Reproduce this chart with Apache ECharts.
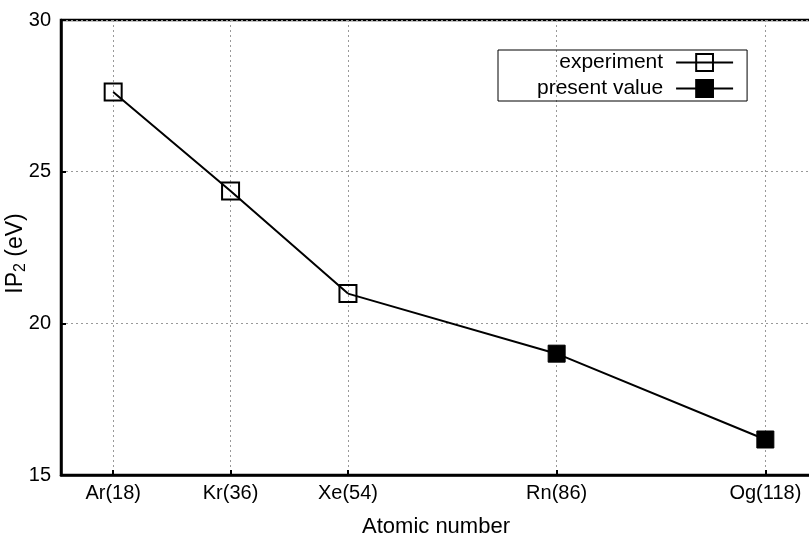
<!DOCTYPE html>
<html>
<head>
<meta charset="utf-8">
<script src="https://cdn.jsdelivr.net/npm/echarts@6/dist/echarts.min.js"></script>
<style>html,body{margin:0;padding:0;background:#fff;}#c{width:809px;height:537px;}</style>
</head>
<body>
<div id="c"></div>
<script>
const elements = ['Ar', 'Kr', 'Xe', 'Rn', 'Og'];
const atomicNumbers = [18, 36, 54, 86, 118];
const experimentIP2 = [27.63, 24.36, 20.98];
const presentIP2 = [19.0, 16.17];
const yTicks = [15, 20, 25, 30];

const FONT = 'Liberation Sans';
const chart = echarts.init(document.getElementById('c'));

const expData = experimentIP2.map((v, i) => [atomicNumbers[i], v]);
const presData = [
  { value: [atomicNumbers[2], experimentIP2[2]], symbol: 'none' }
].concat(presentIP2.map((v, i) => [atomicNumbers[3 + i], v]));

const labelMap = {};
atomicNumbers.forEach((n, i) => { labelMap[n] = elements[i] + '(' + n + ')'; });

chart.setOption({
  animation: false,
  backgroundColor: '#fff',
  grid: {
    left: 61, top: 20, width: 750, height: 455,
    outerBoundsMode: 'none', containLabel: false,
    show: true, borderColor: '#000', borderWidth: 2.5, backgroundColor: 'transparent'
  },
  legend: {
    orient: 'vertical',
    left: 498, top: 50,
    align: 'right',
    borderColor: '#000', borderWidth: 1,
    borderRadius: 0,
    padding: [2, 13, 2, 39],
    itemGap: 5,
    itemWidth: 57, itemHeight: 21,
    textStyle: { fontFamily: FONT, fontSize: 21, color: '#000', padding: [0, 8, 0, 0] },
    data: ['experiment', 'present value']
  },
  xAxis: {
    type: 'value', min: 10, max: 125,
    name: 'Atomic number', nameLocation: 'middle', nameGap: 41,
    nameTextStyle: { fontFamily: FONT, fontSize: 22, color: '#000' },
    axisLine: { show: true, lineStyle: { color: '#000', width: 2.5 } },
    axisTick: { show: true, inside: true, length: 5, customValues: atomicNumbers, lineStyle: { color: '#000', width: 2 } },
    axisLabel: {
      customValues: atomicNumbers, margin: 8,
      fontFamily: FONT, fontSize: 20, color: '#000',
      formatter: v => labelMap[v] || ''
    },
    splitLine: { show: true, lineStyle: { color: '#999', type: [2, 3], width: 1 } }
  },
  yAxis: {
    type: 'value', min: 15, max: 30, interval: 5,
    name: '{a|IP}{b|2}{a| (eV)}', nameLocation: 'middle', nameGap: 32, nameRotate: 90,
    nameMoveOverlap: false,
    nameTextStyle: {
      fontFamily: FONT, fontSize: 23, color: '#000', padding: [0, 12, 0, 0],
      rich: {
        a: { fontFamily: FONT, fontSize: 23, color: '#000' },
        b: { fontFamily: FONT, fontSize: 16, color: '#000', padding: [11, 0, 0, 0] }
      }
    },
    axisLine: { show: true, lineStyle: { color: '#000', width: 2.5 } },
    axisTick: { show: true, inside: true, length: 5, lineStyle: { color: '#000', width: 2 } },
    axisLabel: { margin: 10, fontFamily: FONT, fontSize: 20, color: '#000' },
    splitLine: { show: true, lineStyle: { color: '#999', type: [2, 3], width: 1 } }
  },
  series: [
    {
      name: 'experiment', type: 'line', data: expData,
      symbol: 'rect', symbolSize: 17,
      lineStyle: { color: '#000', width: 2 },
      itemStyle: { color: 'rgba(255,255,255,0)', borderColor: '#000', borderWidth: 2 },
      z: 3
    },
    {
      name: 'present value', type: 'line', data: presData,
      symbol: 'rect', symbolSize: 17,
      lineStyle: { color: '#000', width: 2 },
      itemStyle: { color: '#000', borderColor: '#000', borderWidth: 1 },
      z: 3
    }
  ]
});
</script>
</body>
</html>
